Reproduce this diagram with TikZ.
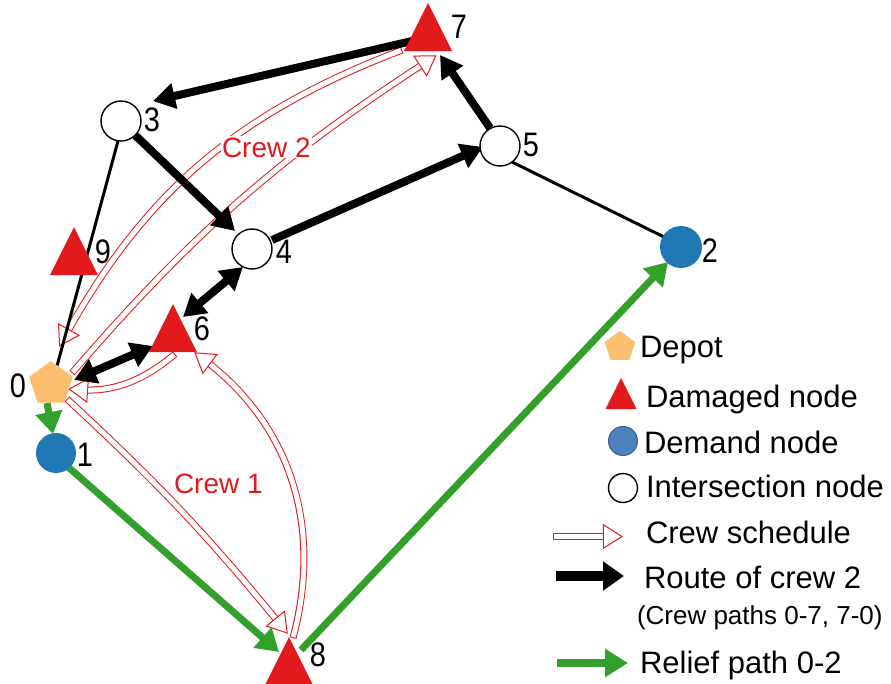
\documentclass[tikz,border=0pt]{standalone}
\usepackage{fontspec}
\setmainfont{Liberation Sans}
\newfontfamily\numfont{Liberation Sans}[FakeStretch=0.85]
\usetikzlibrary{arrows.meta,shapes.geometric,decorations.markings,backgrounds}

\definecolor{dmgred}{HTML}{E31A1C}
\definecolor{dmdblue}{HTML}{1F78B4}
\definecolor{legblue}{HTML}{4F81BD}
\definecolor{legblueline}{HTML}{385D8A}
\definecolor{depotorange}{HTML}{FDBF6F}
\definecolor{reliefgreen}{HTML}{33A02C}

\tikzset{
  every node/.style={inner sep=0pt, outer sep=0pt},
  depot/.style={regular polygon, regular polygon sides=5, fill=depotorange, minimum size=#1},
  depot/.default=46pt,
  damaged/.style={isosceles triangle, isosceles triangle stretches, shape border rotate=90,
    fill=dmgred, minimum width=#1, minimum height=#1, anchor=apex},
  damaged/.default=48pt,
  demand/.style={circle, fill=dmdblue, minimum size=#1},
  demand/.default=40pt,
  junction/.style={circle, draw=black, line width=1.4pt, fill=white, minimum size=#1},
  junction/.default=40pt,
  idlabel/.style={font=\numfont\fontsize{34}{34}\selectfont},
  legtext/.style={anchor=base west, font=\fontsize{31}{36}\selectfont},
  crewlabel/.style={text=dmgred, anchor=base west, font=\fontsize{28}{32}\selectfont},
  road/.style={draw=black, line width=3pt},
  route/.style={draw=black, line width=8pt, arrows={-Triangle[length=22pt,width=25pt]}},
  routeboth/.style={draw=black, line width=8pt,
    arrows={Triangle[length=22pt,width=25pt]-Triangle[length=22pt,width=25pt]}},
  relief/.style={draw=reliefgreen, line width=7pt, arrows={-Triangle[length=22pt,width=26pt]}},
  crewshaft/.style={draw=dmgred, line width=7pt, shorten >=12pt},
  crewcore/.style={draw=white, line width=5pt, shorten >=12pt, shorten <=1pt},
  crewhead/.style={decoration={markings, mark=at position 0.999 with
    {\arrow{Triangle[length=20pt, width=25pt, line width=1pt, color=dmgred, fill=white]}}},
    decorate},
}

% hollow double-lined arrow of a crew schedule
\newcommand\crewarrow[3][]{%
  \draw[crewshaft,#1] (#2) to (#3);
  \draw[crewcore,#1] (#2) to (#3);
  \path[crewhead,#1] (#2) to (#3);
}

\begin{document}
\begin{tikzpicture}[x=1pt, y=-1pt]
\useasboundingbox (0,0) rectangle (891,683);

% network nodes
\node[junction] (n3) at (121,121) {};
\node[junction] (n4) at (252,249) {};
\node[junction] (n5) at (500,146) {};
\node[demand] (n1) at (56,453) {};
\node[demand=42pt] (n2) at (681,247) {};
\node[depot] (n0) at (51,384) {};
\node[damaged] (n6) at (173,304) {};
\node[damaged] (n7) at (428,3) {};
\node[damaged] (n8) at (289,637) {};
\node[damaged] (n9) at (74,227) {};

% node numbers
\node[idlabel] (l0) at (18,386) {0};
\node[idlabel] (l1) at (85,455) {1};
\node[idlabel] (l2) at (710,251) {2};
\node[idlabel] (l3) at (152,120) {3};
\node[idlabel] (l4) at (284,252) {4};
\node[idlabel] (l5) at (531,145) {5};
\node[idlabel] (l6) at (202,329) {6};
\node[idlabel] (l7) at (459,27) {7};
\node[idlabel] (l8) at (318,655) {8};
\node[idlabel] (l9) at (103,252) {9};

\begin{scope}[on background layer]
  % crew 2 schedule
  \crewarrow[bend left=8]{[shift={(21,-11)}]n0.center}{[shift={(9,52)}]n7.apex}
  \crewarrow[bend right=20]{[shift={(-26,47)}]n7.apex}{[shift={(8,-37)}]n0.center}
  % crew 1 schedule
  \crewarrow[bend left=4]{[shift={(16,15)}]n0.center}{[shift={(-1,-3)}]n8.apex}
  \crewarrow[bend right=34]{[shift={(4,1)}]n8.apex}{[shift={(21,48)}]n6.apex}
  \crewarrow[bend left=22]{[shift={(2,50)}]n6.apex}{[shift={(17,5)}]n0.center}

  % plain roads
  \draw[road] ([shift={(-3,20)}]n3.center) -- ([shift={(6,-18)}]n0.center);
  \draw[road] ([shift={(12,16)}]n5.center) -- ([shift={(-17,-10)}]n2.center);

  % route of crew 2
  \draw[routeboth] ([shift={(23,-4)}]n0.center) -- ([shift={(-20,42)}]n6.apex);
  \draw[routeboth] ([shift={(10,13)}]n6.apex) -- ([shift={(-9,18)}]n4.center);
  \draw[route] ([shift={(20,-9)}]n4.center) -- ([shift={(-17,1)}]n5.center);
  \draw[route] ([shift={(-10,-18)}]n5.center) -- ([shift={(12,52)}]n7.apex);
  \draw[route] ([shift={(-16,38)}]n7.apex) -- ([shift={(32,-20)}]n3.center);
  \draw[route] ([shift={(14,14)}]n3.center) -- ([shift={(-17,-18)}]n4.center);

  % relief path
  \draw[relief] ([shift={(-4,19)}]n0.center) -- ([shift={(-3,-19)}]n1.center);
  \draw[relief] ([shift={(11,13)}]n1.center) -- ([shift={(-10,15)}]n8.apex);
  \draw[relief] ([shift={(12,13)}]n8.apex) -- ([shift={(-13,15)}]n2.center);
\end{scope}

% crew names
\node[crewlabel, fill=white, inner sep=1pt] (c2) at (221,157) {Crew 2};
\node[crewlabel] (c1) at (174,493) {Crew 1};

% legend
\node[depot=32pt] (k0) at (620,347) {};
\node[damaged=31pt] (k1) at (621,378) {};
\node[demand=29pt, fill=legblue, draw=legblueline, line width=1pt] (k2) at (623,441) {};
\node[junction=29pt] (k3) at (623,488) {};
\coordinate (kcA) at (553,536.5);
\coordinate (kcB) at (623,536.5);
\crewarrow{kcA}{kcB}
\coordinate (krA) at (556,576);
\coordinate (krB) at (624,576);
\draw[route, line width=10pt, arrows={-Triangle[length=21pt,width=28pt]}] (krA) -- (krB);
\coordinate (kgA) at (557,663);
\coordinate (kgB) at (628,663);
\draw[relief, line width=8pt, arrows={-Triangle[length=23pt,width=27pt]}] (kgA) -- (kgB);

\node[legtext] (t0) at (640,357) {Depot};
\node[legtext] (t1) at (646,407) {Damaged node};
\node[legtext] (t2) at (644,453) {Demand node};
\node[legtext] (t3) at (646,497) {Intersection node};
\node[legtext] (t4) at (646,543) {Crew schedule};
\node[legtext] (t5) at (644,588) {Route of crew 2};
\node[legtext, font=\fontsize{26}{30}\selectfont] (t6) at (637,624) {(Crew paths 0-7, 7-0)};
\node[legtext] (t7) at (640,673) {Relief path 0-2};
\end{tikzpicture}
\end{document}
